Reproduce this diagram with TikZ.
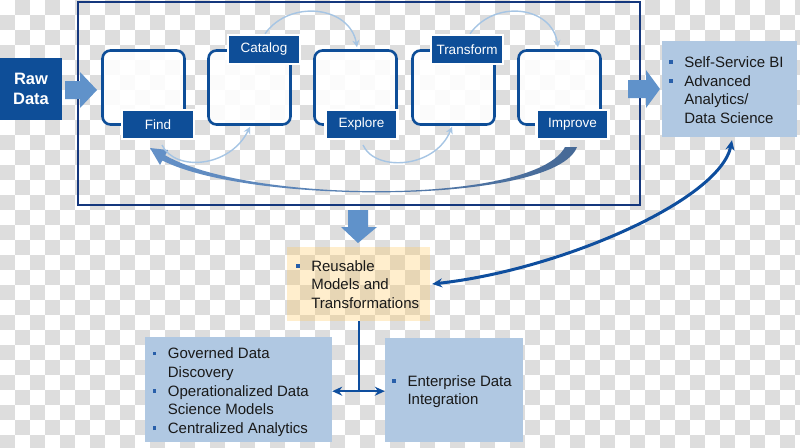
\documentclass[tikz,border=0pt]{standalone}
\usepackage{fontspec}
\setmainfont{Liberation Sans}
\usetikzlibrary{arrows.meta,calc}
\definecolor{dblue}{RGB}{14,78,152}
\definecolor{frameblue}{RGB}{20,55,125}
\definecolor{fatblue}{RGB}{96,146,202}
\definecolor{lblue}{RGB}{176,200,226}
\definecolor{thinblue}{RGB}{166,197,228}
\definecolor{conblue}{RGB}{14,78,158}
\definecolor{checker}{RGB}{221,221,221}
\definecolor{goldfill}{RGB}{255,200,90}
\definecolor{txt}{RGB}{25,25,25}
\definecolor{bulletc}{RGB}{40,95,170}
\definecolor{bigL}{RGB}{100,145,200}
\definecolor{bigR}{RGB}{70,105,150}
\newcommand\bul{\textcolor{bulletc}{\rule[3.5pt]{3.6pt}{3.6pt}}}
\tikzset{ctip/.tip={Stealth[length=10pt,width=9pt]}}
\begin{document}
\begin{tikzpicture}[x=1pt,y=-1pt,
  pbox/.style={draw=dblue, line width=2.6pt, rounded corners=8pt, fill=white, fill opacity=0.9, minimum width=82pt, minimum height=74pt, inner sep=0},
  lbl/.style={fill=dblue, draw=white, line width=2.5pt, text=white, font=\fontsize{13.5}{16}\selectfont, minimum width=72pt, minimum height=29pt, inner sep=0},
  lbox/.style={fill=lblue, inner sep=0},
  txtnode/.style={anchor=base west, inner sep=0, text=txt, font=\fontsize{15}{18.7}\selectfont},
  thinarr/.style={draw=thinblue, line width=1.4pt, -{Stealth[length=7pt,width=7pt]}},
  conn/.style={draw=conblue, line width=2pt},
  fatarr/.style={fill=fatblue}
]
\useasboundingbox (0,0) rectangle (800,447);
\fill[white] (0,0) rectangle (800,447);
\begin{scope}
\clip (0,0) rectangle (800,447);
\foreach \j in {0,2,...,28}{\foreach \i in {1,3,...,53}{\fill[checker] (\i*15,\j*15) rectangle +(15,15);}}
\foreach \j in {1,3,...,29}{\foreach \i in {0,2,...,52}{\fill[checker] (\i*15,\j*15) rectangle +(15,15);}}
\end{scope}

% outer frame
\node[draw=frameblue, line width=2pt, minimum width=562pt, minimum height=203pt, inner sep=0] (frame) at (358.5,103) {};

% raw data
\node[fill=dblue, text=white, minimum width=62pt, minimum height=62pt, inner sep=0, align=center,
  font=\fontsize{16.5}{20}\selectfont\bfseries] (raw) at (31,89) {Raw\\Data};

% fat arrows
\fill[fatarr] (65,81) -- (80,81) -- (80,72) -- (97,90) -- (80,108) -- (80,99) -- (65,99) -- cycle;
\fill[fatarr] (628,80) -- (646,80) -- (646,70) -- (660,89) -- (646,108) -- (646,98) -- (628,98) -- cycle;
\fill[fatarr] (348,210) -- (368,210) -- (368,227) -- (377,227) -- (358,243) -- (341,227) -- (348,227) -- cycle;

% process boxes
\node[pbox] (fbox) at (143.5,87.5) {};
\node[pbox] (cbox) at (249.5,87.5) {};
\node[pbox] (ebox) at (355.5,87.5) {};
\node[pbox] (tbox) at (453.5,87.5) {};
\node[pbox] (ibox) at (559.5,87.5) {};

% big return arrow
\shade[left color=bigL, right color=bigR]
  (577,147) .. controls (555,205) and (250,205) .. (162.4,160.5)
  -- (160,165) -- (150,148) -- (168,150) -- (165.2,155.3)
  .. controls (250,204) and (535,205) .. (565,147) -- cycle;

% labels
\node[lbl] (find) at (158,124.3) {Find};
\node[lbl] (catalog) at (264,49.5) {Catalog};
\node[lbl] (explore) at (361.5,124.3) {Explore};
\node[lbl] (transform) at (467,49.5) {Transform};
\node[lbl] (improve) at (572.5,124.3) {Improve};

% thin curved arrows
\draw[thinarr] ($(find.south)+(4,5)$) .. controls +(13,27) and +(-20,41) .. ($(cbox.south)+(0.5,1)$);
\draw[thinarr] ($(catalog.north)+(1,0)$) .. controls +(25,-35) and +(-7,-41) .. ($(ebox.north)+(1.5,-2)$);
\draw[thinarr] ($(explore.south)+(1.5,5)$) .. controls +(12,27) and +(-17,42) .. ($(tbox.south)+(-1.5,1)$);
\draw[thinarr] ($(transform.north)+(3,0)$) .. controls +(25,-35) and +(-6,-41) .. ($(ibox.north)+(-1.5,-2)$);

% right box
\node[lbox, minimum width=135pt, minimum height=96pt] (ss) at (729.5,89) {};
\node[txtnode] (sst) at (669,67.4) {\begin{tabular}[t]{@{}l@{\hspace{11.5pt}}l@{}}\bul & Self-Service BI\\ \bul & Advanced\\ & Analytics/\\ & Data Science\end{tabular}};

% reusable box
\node[fill=goldfill, fill opacity=0.3, inner sep=0, minimum width=143pt, minimum height=74pt] (reuse) at (358.5,284) {};
\node[txtnode] (reuset) at (296,271.1) {\begin{tabular}[t]{@{}l@{\hspace{11.5pt}}l@{}}\bul & Reusable\\ & Models and\\ & Transformations\end{tabular}};

% bottom boxes
\node[lbox, minimum width=187pt, minimum height=105pt] (gov) at (238.5,389.5) {};
\node[txtnode] (govt) at (152.6,358.7) {\begin{tabular}[t]{@{}l@{\hspace{11.5pt}}l@{}}\bul & Governed Data\\ & Discovery\\ \bul & Operationalized Data\\ & Science Models\\ \bul & Centralized Analytics\end{tabular}};
\node[lbox, minimum width=138pt, minimum height=104pt] (ent) at (454,390) {};
\node[txtnode] (entt) at (392.2,386.1) {\begin{tabular}[t]{@{}l@{\hspace{11.5pt}}l@{}}\bul & Enterprise Data\\ & Integration\end{tabular}};

% connectors
\coordinate (junc) at ($(reuse.south)+(0.8,70)$);
\draw[conn] (reuse.south -| junc) -- (junc);
\draw[conn, ctip-ctip] (gov.east |- junc) -- (ent.west |- junc);
\draw[draw=conblue, line width=3pt, ctip-ctip] ($(reuse.east)+(2,0)$) .. controls +(128,-14) and +(-12,60) .. ($(ss.south)+(2.5,3)$);
\end{tikzpicture}
\end{document}
